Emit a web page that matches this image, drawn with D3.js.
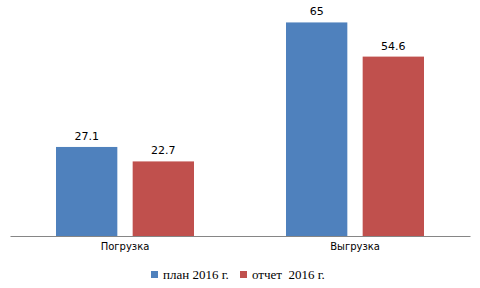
<!DOCTYPE html>
<meta charset="utf-8">
<style>
body { margin: 0; background: #fff; }
.value { font: 11px "DejaVu Sans", sans-serif; fill: #000; text-anchor: middle; }
.cat { font: 10px "DejaVu Sans", sans-serif; fill: #000; text-anchor: middle; }
.legend { font: 13px "Liberation Serif", serif; fill: #000; }
</style>
<body>
<svg id="chart" width="480" height="288"></svg>
<script src="https://d3js.org/d3.v7.min.js"></script>
<script>

// data
var categories = ["Погрузка", "Выгрузка"];
var series = ["план 2016 г.", "отчет  2016 г."];
var plan = [27.1, 65];
var report = [22.7, 54.6];
var colors = ["#4f81bd", "#c0504d"];

var values = [plan, report];

var svg = d3.select("#chart");

var x0 = d3.scaleBand()
  .domain(categories)
  .range([10, 470]);

var x1 = d3.scaleBand()
  .domain(series)
  .range([46, x0.bandwidth() - 46])
  .paddingInner(0.2);

var y = d3.scaleLinear()
  .domain([0, 70])
  .range([236, 6]);

// bars
var groups = svg.selectAll("g.group")
  .data(categories)
  .enter().append("g")
    .attr("class", "group")
    .attr("transform", function(d) { return "translate(" + x0(d) + ",0)"; });

groups.selectAll("rect")
  .data(function(d, i) { return series.map(function(s, j) { return { s: s, v: values[j][i], j: j }; }); })
  .enter().append("rect")
    .attr("x", function(d) { return x1(d.s); })
    .attr("y", function(d) { return y(d.v); })
    .attr("width", x1.bandwidth())
    .attr("height", function(d) { return y(0) - y(d.v); })
    .style("fill", function(d) { return colors[d.j]; });

groups.selectAll("text.value")
  .data(function(d, i) { return series.map(function(s, j) { return { s: s, v: values[j][i] }; }); })
  .enter().append("text")
    .attr("class", "value")
    .attr("x", function(d) { return x1(d.s) + x1.bandwidth() / 2; })
    .attr("y", function(d) { return y(d.v) - 7; })
    .text(function(d) { return d.v; });

// x axis
var xAxis = svg.append("g")
  .attr("transform", "translate(0," + y(0) + ")")
  .call(d3.axisBottom(x0).tickSize(0).tickPadding(0));
xAxis.select(".domain").attr("stroke", "#868686").attr("stroke-width", 1.2);
xAxis.selectAll("text").attr("class", "cat").attr("dy", null).attr("y", 14);

// legend
var legend = svg.append("g");
var legendX = [151, 240];
series.forEach(function(s, j) {
  legend.append("rect")
    .attr("x", legendX[j])
    .attr("y", 271)
    .attr("width", 7)
    .attr("height", 7)
    .style("fill", colors[j]);
  legend.append("text")
    .attr("class", "legend")
    .attr("x", legendX[j] + 12)
    .attr("y", 279)
    .attr("xml:space", "preserve")
    .style("white-space", "pre")
    .text(s);
});

</script>
</body>
